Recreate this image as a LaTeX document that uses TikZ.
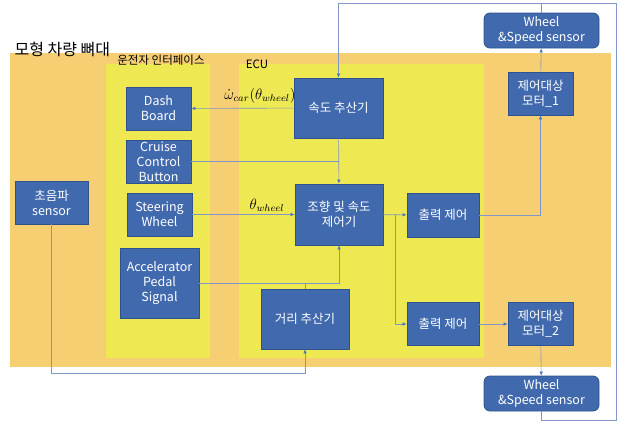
\documentclass[tikz,border=0pt]{standalone}
\usepackage{fontspec}
\setmainfont{Noto Sans CJK KR}
\usetikzlibrary{arrows.meta}
\definecolor{framecol}{RGB}{245,207,114}
\definecolor{panelcol}{RGB}{238,232,82}
\definecolor{blockcol}{RGB}{65,105,174}
\definecolor{edgecol}{RGB}{47,82,143}
\definecolor{wirecol}{RGB}{128,150,202}
\definecolor{tipcol}{RGB}{68,114,196}
\begin{document}
\begin{tikzpicture}[x=1pt, y=-1pt,
  box/.style = {draw=edgecol, fill=blockcol, text=white, line width=0.8pt, align=center,
    inner sep=1pt, font=\fontsize{12.5}{15}\selectfont},
  joint/.style = {draw=wirecol, line width=0.6pt},
  link/.style = {joint, -{Latex[length=4pt, width=3.5pt, color=tipcol]}},
  sym/.style = {font=\fontsize{12}{14}\selectfont, scale=1.25, inner sep=1pt}]
\useasboundingbox (0,0) rectangle (620,423);
% backgrounds
\fill[framecol] (10,53) rectangle (611,367);
\fill[panelcol] (106,64) rectangle (210,358);
\fill[panelcol] (239,64) rectangle (484,358);
\node[anchor=west, font=\fontsize{16}{18}\selectfont] (title) at (11,49) {모형 차량 뼈대};
\node[font=\fontsize{11.5}{13}\selectfont] (hmi) at (161,60) {운전자 인터페이스};
\node[font=\fontsize{11.5}{13}\selectfont] (ecu) at (257,64) {ECU};
\begin{scope}[every node/.style = {box}]
\node[minimum width=65pt, minimum height=43pt] (dash) at (158.5,108.5) {Dash\\Board};
\node[minimum width=65pt, minimum height=43pt] (cruise) at (158.5,161.5) {Cruise\\Control\\Button};
\node[minimum width=65pt, minimum height=43pt] (steer) at (159.5,214.5) {Steering\\Wheel};
\node[minimum width=79pt, minimum height=70pt] (accel) at (159.5,283) {Accelerator\\Pedal\\Signal};
\node[minimum width=73pt, minimum height=43pt] (sonic) at (51.5,202.5) {초음파\\sensor};
\node[minimum width=89pt, minimum height=60pt] (speed) at (338.5,108) {속도 추산기};
\node[minimum width=88pt, minimum height=61pt] (ctrl) at (339,214.5) {조향 및 속도\\제어기};
\node[minimum width=88pt, minimum height=60pt] (dist) at (305,319) {거리 추산기};
\node[minimum width=72pt, minimum height=44pt] (outa) at (443,215) {출력 제어};
\node[minimum width=72pt, minimum height=43pt] (outb) at (443,324) {출력 제어};
\node[minimum width=65pt, minimum height=43pt] (mota) at (540.5,93.5) {제어대상\\모터\_1};
\node[minimum width=65pt, minimum height=43pt] (motb) at (540.5,324) {제어대상\\모터\_2};
\node[rounded corners=6pt, minimum width=115pt, minimum height=35pt] (wsa) at (541.5,30.5) {Wheel\\\&Speed sensor};
\node[rounded corners=6pt, minimum width=115pt, minimum height=35pt] (wsb) at (541.5,393.5) {Wheel\\\&Speed sensor};
\end{scope}
\coordinate (tr) at (616,3);
\coordinate (br) at (616,420);
\begin{scope}[every edge/.style = {link}]
\path (speed) edge node[sym, anchor=south, xshift=14pt, yshift=3pt] {$\dot{\omega}_{car}(\theta_{wheel})$} (dash);
\path (speed) edge (ctrl);
\path (steer) edge node[sym, anchor=south, pos=0.73, yshift=1pt] {$\theta_{wheel}$} (ctrl);
\path (ctrl) edge (outa);
\path (outb) edge (motb);
\path (mota) edge (wsa);
\path (motb) edge (wsb);
\end{scope}
\draw[link] (wsb.south) |- (br) -- (tr) -| (speed.north);
\draw[joint] (wsa.north) -- (wsa.north |- tr);
\draw[joint] (cruise.east) -- (cruise.east -| ctrl.north);
\draw[link] (accel.east) -| (ctrl.south);
\draw[joint] (dist.north) -- (dist.north |- accel.east);
\draw[link] (sonic.south) -- ++(0,149) -| (dist.south);
\draw[link] ([xshift=-11pt]outa.west) |- (outb.west);
\draw[link] (outa.east) -| (mota.south);
\end{tikzpicture}
\end{document}
